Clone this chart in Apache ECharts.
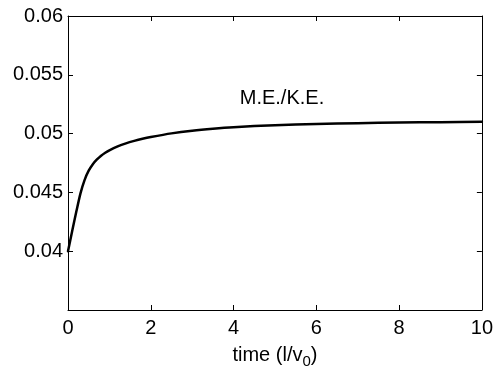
<!DOCTYPE html>
<html><head><meta charset="utf-8">
<script src="https://cdn.jsdelivr.net/npm/echarts@6/dist/echarts.min.js"></script>
<style>html,body{margin:0;padding:0;background:#fff}#c{width:496px;height:382px}</style>
</head><body><div id="c"></div>
<script>
const times = [0,0.1,0.2,0.3,0.4,0.5,0.6,0.7,0.8,0.9,1.0,1.2,1.4,1.6,1.8,2.0,2.5,3,3.5,4,5,6,7,8,9,10];
const ratio = [0.04000,0.04170,0.04335,0.04490,0.04605,0.04685,0.04740,0.04780,0.04812,0.04837,0.04858,0.04891,0.04917,0.04938,0.04956,0.04971,0.05002,0.05025,0.05042,0.05055,0.05072,0.05082,0.05089,0.05094,0.05097,0.05100];
const xTicks = [0,2,4,6,8,10];
const yTicks = [0.04,0.045,0.05,0.055,0.06];
const seriesLabel = 'M.E./K.E.';
const labelPos = [5.17, 0.0530];

const font = 'Liberation Sans, Arial, Helvetica, sans-serif';
const chart = echarts.init(document.getElementById('c'));
const axisCommon = {
  axisLine:{show:true,onZero:false,lineStyle:{color:'#000',width:1}},
  axisTick:{show:true,inside:true,length:5,lineStyle:{color:'#000',width:1}},
  splitLine:{show:false}
};
chart.setOption({
  animation:false,
  grid:{left:68,right:12,top:16,bottom:72},
  xAxis:[
    Object.assign({type:'value',min:0,max:10,interval:2,position:'bottom',
      axisLabel:{color:'#000',fontSize:20,fontFamily:font,margin:8,
        formatter:v=>xTicks.includes(v)?String(v):''},
      name:'time (l/v{sub|0})',nameLocation:'middle',nameGap:32,
      nameTextStyle:{color:'#000',fontSize:20,fontFamily:font,
        rich:{sub:{fontSize:15,fontFamily:font,color:'#000',padding:[12,0,0,0]}}}
    },axisCommon),
    Object.assign({type:'value',min:0,max:10,interval:2,position:'top',axisLabel:{show:false}},axisCommon)
  ],
  yAxis:[
    Object.assign({type:'value',min:0.035,max:0.06,interval:0.005,position:'left',
      axisLabel:{color:'#000',fontSize:20,fontFamily:font,margin:5,
        formatter:v=>{ const r=+v.toFixed(3); return yTicks.some(t=>Math.abs(t-r)<1e-9)?String(r):''; }}
    },axisCommon),
    Object.assign({type:'value',min:0.035,max:0.06,interval:0.005,position:'right',axisLabel:{show:false}},axisCommon)
  ],
  series:[{
    type:'line',
    data:times.map((t,i)=>[t,ratio[i]]),
    smooth:0.25,
    showSymbol:false,
    lineStyle:{color:'#000',width:2.5,join:'round',cap:'round'},
    markPoint:{
      symbol:'circle',symbolSize:0,
      data:[{coord:labelPos}],
      label:{show:true,formatter:seriesLabel,color:'#000',fontSize:20,fontFamily:font,position:'inside'}
    }
  }]
});
</script></body></html>
